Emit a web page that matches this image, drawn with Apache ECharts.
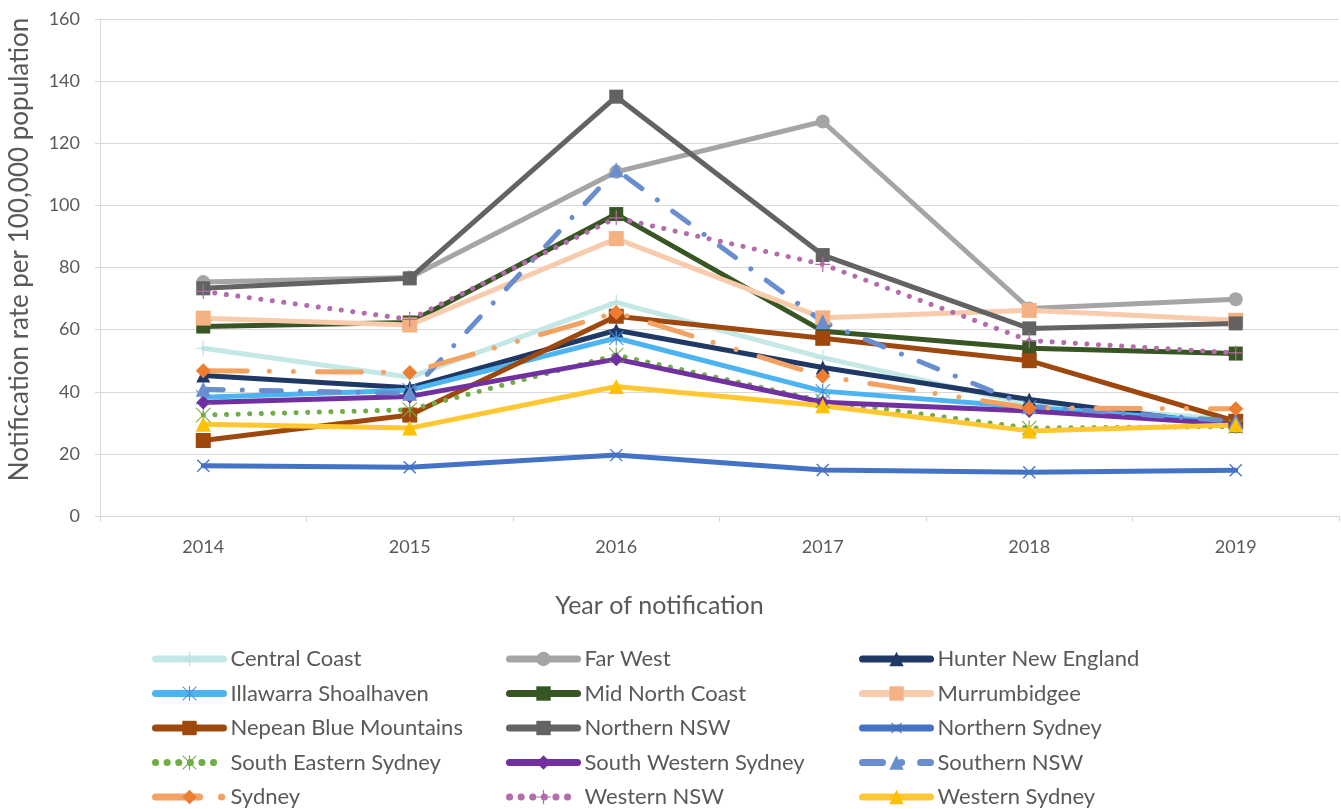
<!DOCTYPE html>
<html>
<head>
<meta charset="utf-8">
<script src="https://cdn.jsdelivr.net/npm/echarts@6/dist/echarts.min.js"></script>
<style>html,body{margin:0;padding:0;background:#fff}#c{width:1341px;height:809px}</style>
</head>
<body>
<div id="c"></div>
<script>
const categories = ['2014', '2015', '2016', '2017', '2018', '2019'];
const yTicks = { min: 0, max: 160, interval: 20 };

const centralCoast      = [54.0, 44.7, 68.8, 51.0, 36.0, 31.0];
const farWest           = [75.3, 76.8, 110.8, 127.0, 66.8, 69.8];
const hunterNewEngland  = [45.2, 41.3, 59.8, 47.8, 37.5, 29.0];
const illawarra         = [38.2, 40.5, 57.3, 40.2, 35.0, 30.0];
const midNorthCoast     = [61.0, 62.3, 97.2, 59.5, 54.0, 52.3];
const murrumbidgee      = [63.7, 61.5, 89.3, 63.8, 66.2, 63.0];
const nepeanBlueMtns    = [24.3, 32.5, 64.3, 57.2, 50.0, 30.5];
const northernNSW       = [73.3, 76.5, 135.0, 84.0, 60.4, 62.0];
const northernSydney    = [16.2, 15.7, 19.6, 14.8, 14.1, 14.7];
const southEastSydney   = [32.5, 34.2, 51.8, 37.0, 28.3, 28.8];
const southWestSydney   = [36.5, 38.5, 50.5, 36.6, 33.8, 29.5];
const southernNSW       = [40.8, 39.5, 111.5, 62.5, 35.3, 30.5];
const sydney            = [46.8, 46.2, 65.5, 45.0, 34.8, 34.5];
const westernNSW        = [72.3, 63.3, 96.0, 81.0, 56.5, 52.5];
const westernSydney     = [29.5, 28.3, 41.7, 35.5, 27.4, 29.3];

const PLUS = 'path://M-0.8,-10 L0.8,-10 L0.8,-0.8 L10,-0.8 L10,0.8 L0.8,0.8 L0.8,10 L-0.8,10 L-0.8,0.8 L-10,0.8 L-10,-0.8 L-0.8,-0.8 Z';
const STAR = 'path://M-0.8,-10 L0.8,-10 L0.8,10 L-0.8,10 Z M-10,-9 L-9,-10 L10,9 L9,10 Z M9,-10 L10,-9 L-9,10 L-10,9 Z';

function s(name, data, lineColor, markColor, symbol, size, extra) {
  const o = {
    name: name, type: 'line', data: data,
    symbol: symbol, symbolSize: size,
    lineStyle: { color: lineColor, width: 5, cap: 'round', join: 'round' },
    itemStyle: { color: markColor },
    emphasis: { disabled: true }
  };
  if (extra) {
    if (extra.type) o.lineStyle.type = extra.type;
    if (extra.rotate) o.symbolRotate = extra.rotate;
  }
  return o;
}

const series = [
  s('Central Coast', centralCoast, '#c4e8e6', '#b7e1df', PLUS, 15),
  s('Far West', farWest, '#a5a5a5', '#a5a5a5', 'circle', 14),
  s('Hunter New England', hunterNewEngland, '#1f3864', '#1f3864', 'triangle', 14),
  s('Illawarra Shoalhaven', illawarra, '#4db4f2', '#4a90d9', STAR, 15),
  s('Mid North Coast', midNorthCoast, '#375623', '#375623', 'rect', 14),
  s('Murrumbidgee', murrumbidgee, '#f8cbad', '#f4b183', 'rect', 15),
  s('Nepean Blue Mountains', nepeanBlueMtns, '#9e480e', '#9e480e', 'rect', 15),
  s('Northern NSW', northernNSW, '#636363', '#636363', 'rect', 14),
  s('Northern Sydney', northernSydney, '#4472c4', '#4472c4', PLUS, 17, { rotate: 45 }),
  s('South Eastern Sydney', southEastSydney, '#70ad47', '#70ad47', STAR, 15, { type: [0.1, 11.5] }),
  s('South Western Sydney', southWestSydney, '#7030a0', '#7030a0', 'diamond', 14),
  s('Southern NSW', southernNSW, '#698ed0', '#698ed0', 'triangle', 15, { type: [20, 19, 0.1, 19] }),
  s('Sydney', sydney, '#f4a261', '#ed7d31', 'diamond', 15, { type: [44, 22, 0.1, 24, 0.1, 24] }),
  s('Western NSW', westernNSW, '#b56cab', '#b56cab', PLUS, 15, { type: [0.1, 11.5] }),
  s('Western Sydney', westernSydney, '#ffc832', '#ffc000', 'triangle', 15)
];

const names = series.map(x => x.name);
const FONT = 'Lato';
const TXT = '#595959';

function legendCol(left, items) {
  return {
    orient: 'vertical', left: left, top: 648, padding: 0,
    itemWidth: 68, itemHeight: 18, itemGap: 12.5,
    data: items, selectedMode: false,
    lineStyle: { width: 7 },
    textStyle: { fontFamily: FONT, fontSize: 22, lineHeight: 22, color: TXT, padding: [0, 0, 0, 2] }
  };
}

const chart = echarts.init(document.getElementById('c'), null, { renderer: 'canvas' });
chart.setOption({
  animation: false,
  backgroundColor: '#fff',
  textStyle: { fontFamily: FONT },
  grid: { left: 100, right: 2, top: 19, bottom: 293, containLabel: false, outerBoundsMode: 'none' },
  legend: [
    legendCol(152, names.filter((n, i) => i % 3 === 0)),
    legendCol(506, names.filter((n, i) => i % 3 === 1)),
    legendCol(859, names.filter((n, i) => i % 3 === 2))
  ],
  xAxis: {
    type: 'category', data: categories, boundaryGap: true,
    name: 'Year of notification', nameLocation: 'middle', nameGap: 77,
    nameTextStyle: { fontFamily: FONT, fontSize: 25, color: TXT, padding: [0, 120, 0, 0] },
    axisLine: { lineStyle: { color: '#d9d9d9', width: 1 } },
    axisTick: { show: true, length: 6, lineStyle: { color: '#d9d9d9' } },
    axisLabel: { fontFamily: FONT, fontSize: 18, color: TXT, margin: 22 }
  },
  yAxis: {
    type: 'value', min: yTicks.min, max: yTicks.max, interval: yTicks.interval,
    name: 'Notification rate per 100,000 population', nameLocation: 'middle', nameGap: 67,
    nameTextStyle: { fontFamily: FONT, fontSize: 26, color: TXT, padding: [0, 0, 0, 36] },
    axisLine: { show: true, lineStyle: { color: '#d9d9d9', width: 1 } },
    axisTick: { show: true, length: 5, lineStyle: { color: '#d9d9d9' } },
    axisLabel: { fontFamily: FONT, fontSize: 18, color: TXT, margin: 20 },
    splitLine: { lineStyle: { color: '#d9d9d9', width: 1 } }
  },
  series: series
});
</script>
</body>
</html>
